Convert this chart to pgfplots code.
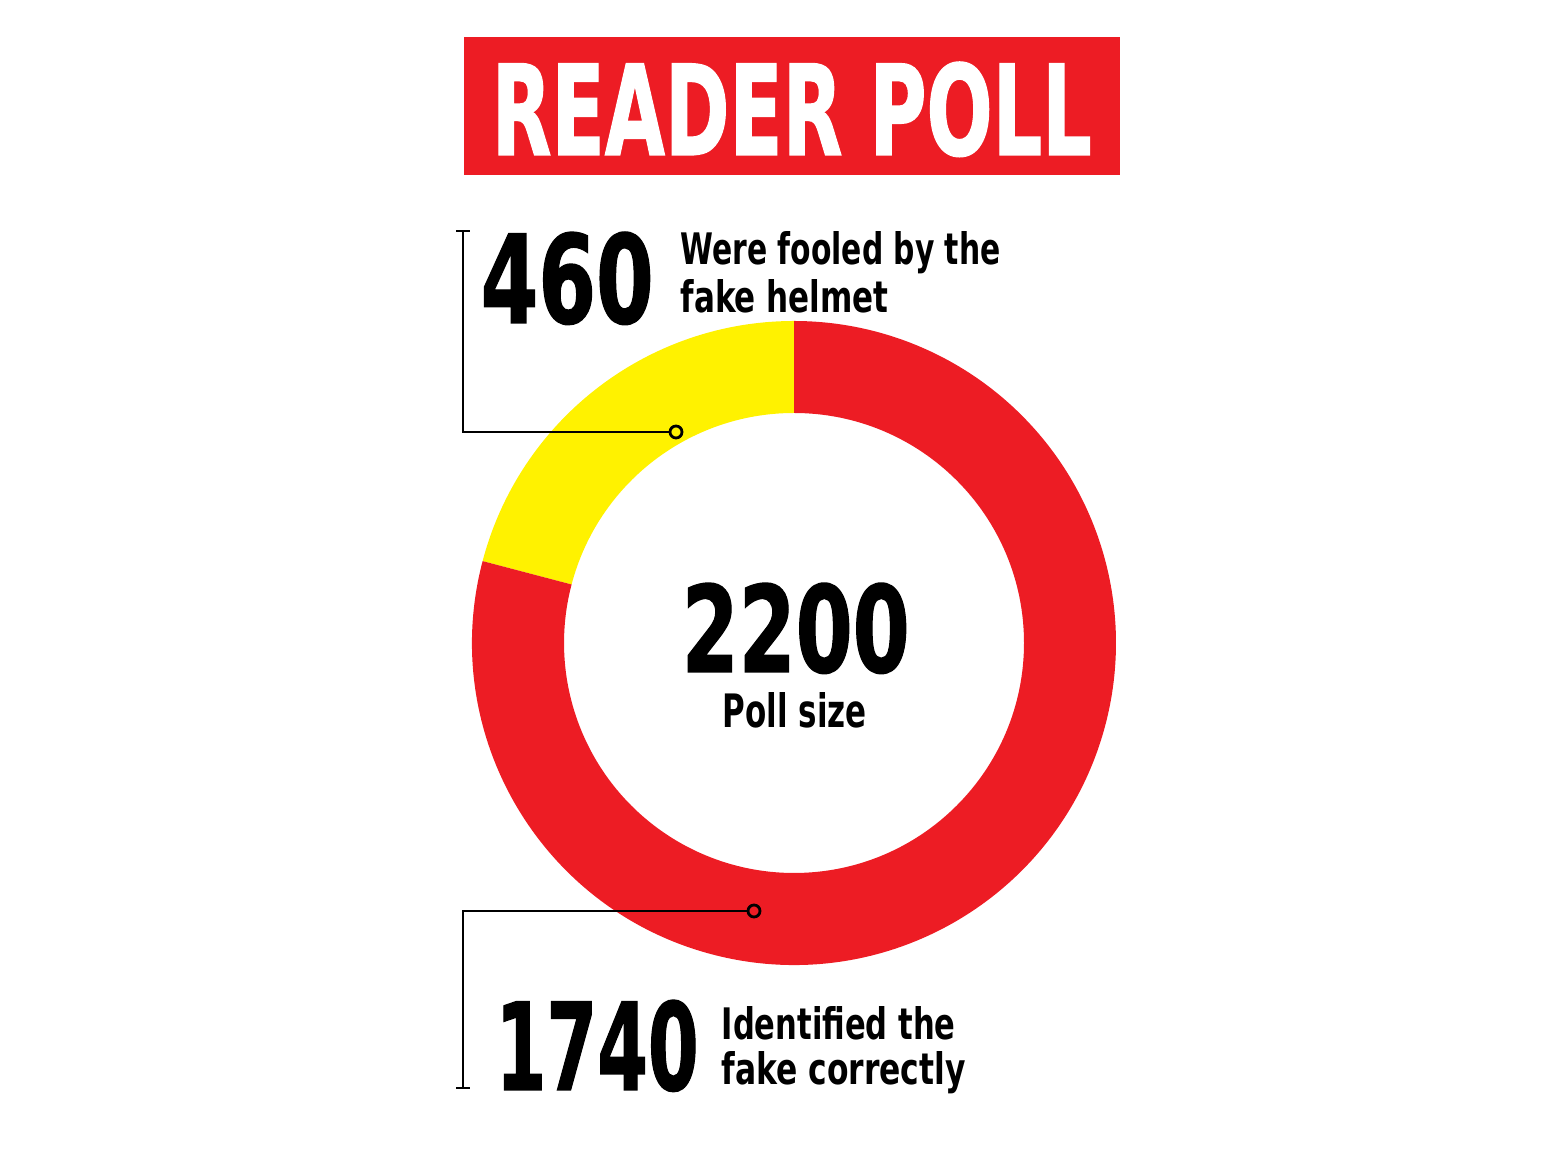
\documentclass[border=0pt]{standalone}
\usepackage{pgfplots}
\pgfplotsset{compat=1.18}
\usepackage{pgfplotstable}
\usepackage{graphicx}
\usepackage{fontspec}
\newfontfamily\cond{DejaVu Sans Condensed}
\newfontfamily\heavy{DejaVu Sans Condensed Bold}[FakeBold=1.2]
\definecolor{pollred}{RGB}{237,28,36}
\definecolor{pollyellow}{RGB}{255,242,0}
\newlength\px \setlength\px{0.1mm}
\pgfplotstableread{
label value
fooled 460
correct 1740
}\polldata
\pgfplotstablegetelem{0}{value}\of\polldata \let\vA\pgfplotsretval
\pgfplotstablegetelem{1}{value}\of\polldata \let\vB\pgfplotsretval
\pgfmathsetmacro\fracA{\vA/(\vA+\vB)}
\pgfmathsetmacro\spanA{360*\fracA}
\pgfmathsetmacro\aS{90}
\pgfmathsetmacro\aM{90+\spanA}
\pgfmathsetmacro\aE{450}
\newcommand\txt[5]{\node[anchor=base west,inner sep=0pt,font=\cond\bfseries] at (axis cs:#1,{1168-#2}) {\resizebox{#3\px}{#4\px}{#5}};}
\newcommand\bignum[5]{\node[anchor=base west,inner sep=0pt,font=\heavy] at (axis cs:#1,{1168-#2}) {\resizebox{#3\px}{#4\px}{#5}};}
\begin{document}
\begin{tikzpicture}
\begin{axis}[x=0.1mm,y=0.1mm,xmin=0,xmax=1557,ymin=0,ymax=1168,hide axis,clip=false,scale only axis]
\path (axis cs:0,0) rectangle (axis cs:1557,1168);
% title
\fill[pollred] (axis cs:464,{1168-37}) rectangle (axis cs:1120,{1168-175});
\node[anchor=base west,inner sep=0pt,font=\heavy,text=white] at (axis cs:491,{1168-155}) {\resizebox{600\px}{93\px}{READER POLL}};
% donut
\fill[pollyellow] (axis cs:{794+322*cos(\aS)},{525+322*sin(\aS)}) arc[start angle=\aS,end angle=\aM,radius=32.2mm] -- (axis cs:{794+230*cos(\aM)},{525+230*sin(\aM)}) arc[start angle=\aM,end angle=\aS,radius=23mm] -- cycle;
\fill[pollred] (axis cs:{794+322*cos(\aM)},{525+322*sin(\aM)}) arc[start angle=\aM,end angle=\aE,radius=32.2mm] -- (axis cs:{794+230*cos(\aE)},{525+230*sin(\aE)}) arc[start angle=\aE,end angle=\aM,radius=23mm] -- cycle;
% leaders
\draw[line width=0.28mm] (axis cs:456,{1168-231}) -- (axis cs:470,{1168-231});
\draw[line width=0.28mm] (axis cs:463,{1168-231}) -- (axis cs:463,{1168-432}) -- (axis cs:670,{1168-432});
\draw[line width=0.28mm] (axis cs:676,{1168-432}) circle[radius=0.6mm];
\draw[line width=0.28mm] (axis cs:456,{1168-1088}) -- (axis cs:470,{1168-1088});
\draw[line width=0.28mm] (axis cs:463,{1168-1088}) -- (axis cs:463,{1168-911}) -- (axis cs:748,{1168-911});
\draw[line width=0.28mm] (axis cs:754,{1168-911}) circle[radius=0.6mm];
% texts
\bignum{480}{323}{173}{91}{460}
\txt{680}{265}{320}{33}{Were fooled by the}
\txt{680}{313}{208}{33}{fake helmet}
\bignum{681}{672}{228}{89}{2200}
\txt{722}{728}{144}{35}{Poll size}
\bignum{495}{1090}{203}{90}{1740}
\txt{721}{1040}{234}{33}{Identified the}
\txt{721}{1085}{244}{33}{fake correctly}
\end{axis}
\end{tikzpicture}
\end{document}
